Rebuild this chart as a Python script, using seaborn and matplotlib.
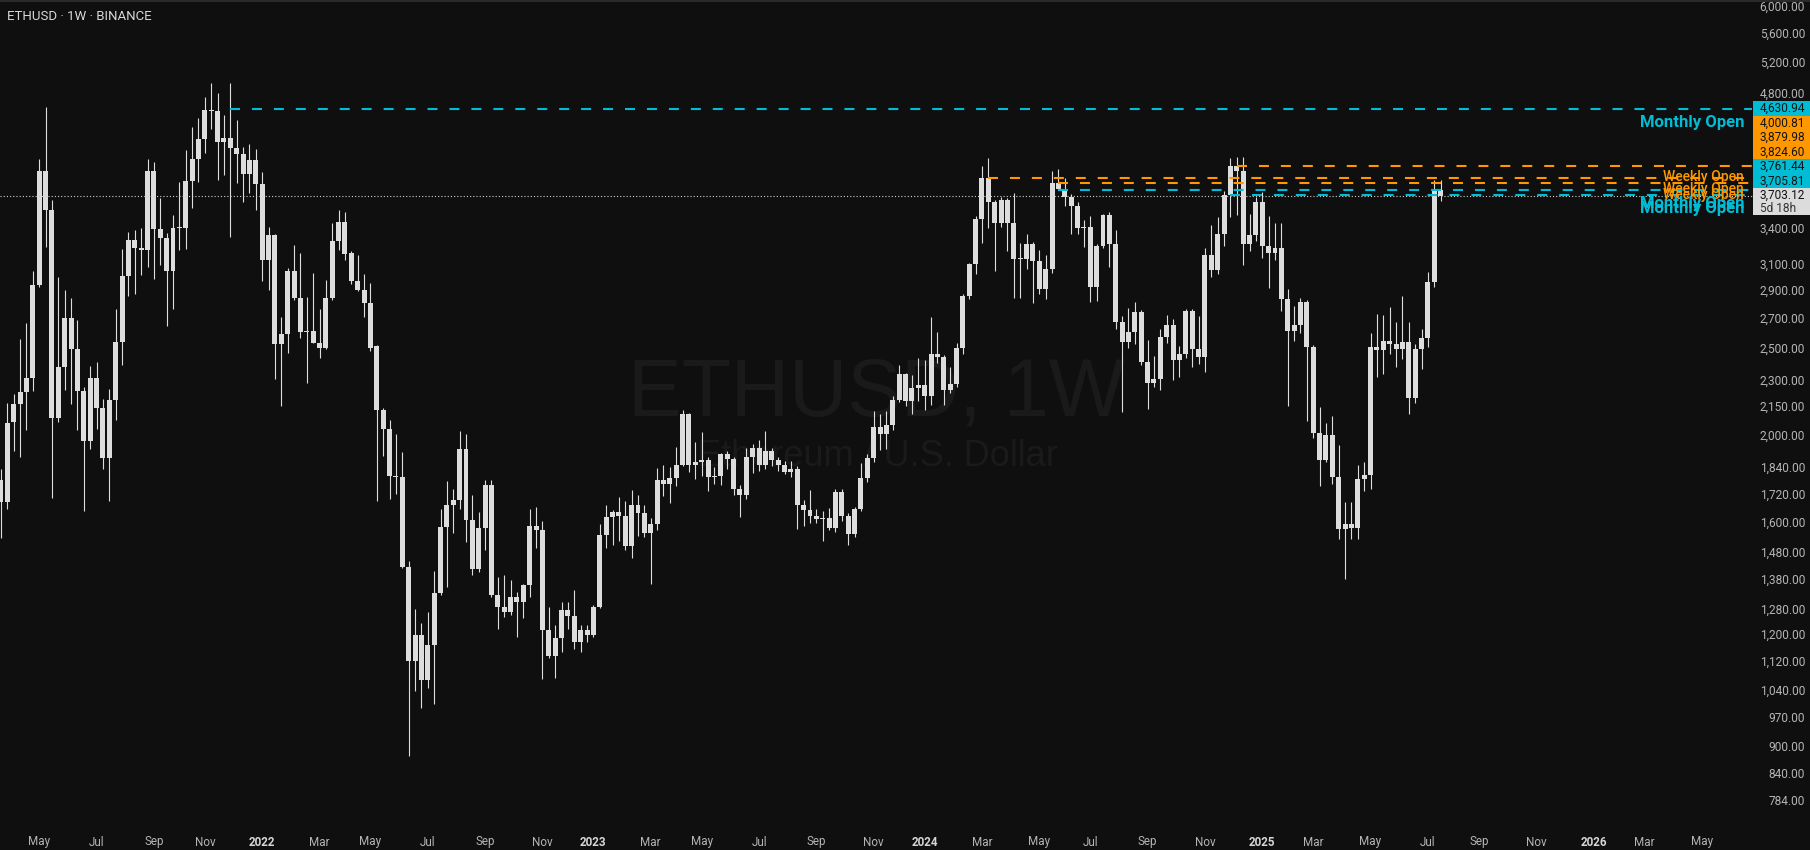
import numpy as np
import pandas as pd
import matplotlib
matplotlib.use("Agg")
import matplotlib.pyplot as plt
import seaborn as sns
from matplotlib.patches import Rectangle

# ---- data: weekly ETHUSD candles from the week of 2021-03-22 to 2025-07-21 ----
opens = [
    1786, 1690, 2075, 2170, 2240, 2320, 2948, 3943, 3570, 2095,
    2385, 2706, 2500, 2245, 1974, 2320, 2150, 1889, 2193, 2545,
    3015, 3306, 3235, 3220, 3950, 3400, 3320, 3055, 3410, 3405,
    3846, 4070, 4283, 4613, 4600, 4250, 4290, 4185, 4120, 3920,
    4058, 3820, 3141, 3350, 2533, 2600, 3053, 2848, 2610, 2620,
    2540, 2506, 2848, 3300, 3460, 3200, 2976, 2908, 2815, 2518,
    2137, 2034, 1804, 1800, 1430, 1123, 1200, 1070, 1170, 1337,
    1584, 1676, 1697, 1934, 1612, 1422, 1580, 1764, 1330, 1290,
    1275, 1325, 1305, 1364, 1588, 1570, 1216, 1138, 1191, 1280,
    1262, 1179, 1216, 1200, 1290, 1551, 1625, 1645, 1628, 1510,
    1676, 1640, 1560, 1596, 1786, 1770, 1795, 1856, 2116, 1856,
    1870, 1880, 1800, 1805, 1910, 1885, 1746, 1718, 1894, 1939,
    1856, 1924, 1880, 1856, 1822, 1836, 1676, 1655, 1630, 1615,
    1620, 1580, 1732, 1630, 1555, 1660, 1795, 1890, 2045, 2010,
    2057, 2193, 2345, 2190, 2262, 2280, 2215, 2468, 2450, 2250,
    2286, 2506, 2863, 3110, 3490, 3880, 3645, 3450, 3663, 3450,
    3149, 3150, 3270, 3133, 2915, 3070, 3825, 3770, 3690, 3610,
    3410, 3420, 2930, 3255, 3527, 3270, 2680, 2545, 2610, 2748,
    2418, 2290, 2315, 2577, 2660, 2430, 2468, 2755, 2500, 2450,
    3180, 3061, 3358, 3712, 4001, 3945, 3270, 3350, 3645, 3256,
    3200, 3238, 2842, 2617, 2660, 2820, 2512, 2015, 1880, 2005,
    1800, 1576, 1596, 1580, 1790, 1808, 2512, 2490, 2550, 2533,
    2500, 2545, 2205, 2500, 2570, 2970, 3761.44,
]
highs = [
    1836, 2175, 2230, 2563, 2672, 3053, 4070, 4650, 3665, 3010,
    2908, 2850, 2692, 2265, 2392, 2420, 2200, 2255, 2770, 3230,
    3370, 3392, 3410, 4070, 4040, 3685, 3365, 3520, 3836, 4164,
    4415, 4515, 4765, 4950, 4815, 4555, 4940, 4496, 4196, 4230,
    4175, 3936, 3418, 3358, 2713, 3077, 3260, 3200, 2856, 3037,
    2770, 2984, 3450, 3570, 3550, 3210, 3180, 3030, 2960, 2525,
    2150, 2083, 2010, 1918, 1450, 1283, 1237, 1273, 1414, 1660,
    1781, 1746, 2026, 2010, 1718, 1645, 1786, 1786, 1392, 1400,
    1382, 1340, 1368, 1660, 1667, 1607, 1290, 1231, 1306, 1306,
    1347, 1231, 1231, 1297, 1596, 1676, 1655, 1710, 1692, 1741,
    1718, 1676, 1620, 1841, 1856, 1848, 1944, 2137, 2120, 1968,
    2020, 1894, 1848, 1915, 1924, 1894, 1764, 1939, 1958, 1977,
    2026, 1939, 1894, 1875, 1875, 1852, 1697, 1741, 1660, 1650,
    1663, 1746, 1746, 1640, 1665, 1865, 1910, 2131, 2116, 2131,
    2215, 2398, 2350, 2340, 2443, 2430, 2710, 2610, 2460, 2386,
    2540, 2878, 3117, 3518, 4000, 4080, 3660, 3690, 3680, 3730,
    3280, 3355, 3290, 3222, 3180, 3945, 3966, 3876, 3720, 3640,
    3480, 3518, 3270, 3535, 3550, 3392, 2720, 2778, 2820, 2763,
    2558, 2455, 2630, 2727, 2700, 2520, 2770, 2770, 2720, 3240,
    3435, 3503, 3750, 4080, 4090, 4090, 3535, 3690, 3740, 3518,
    3450, 3450, 2915, 2792, 2850, 2835, 2525, 2155, 2067, 2105,
    1954, 1688, 1688, 1856, 1870, 2603, 2734, 2727, 2785, 2678,
    2863, 2678, 2533, 2630, 3045, 3856, 3856,
]
lows = [
    1540, 1660, 1925, 1894, 2030, 2245, 2930, 3250, 1707, 2075,
    2250, 2170, 2030, 1652, 1934, 2036, 1836, 1694, 2085, 2400,
    2860, 2880, 3025, 3085, 2990, 3100, 2650, 2770, 3222, 3230,
    3590, 3836, 4135, 4393, 3856, 3906, 3330, 3826, 3645, 3730,
    3570, 2976, 2908, 2314, 2160, 2474, 2835, 2570, 2290, 2540,
    2443, 2500, 2835, 3222, 3141, 2950, 2900, 2713, 2487, 1692,
    1900, 1702, 1725, 1425, 881, 1040, 995, 1048, 1007, 1330,
    1357, 1559, 1658, 1523, 1400, 1410, 1493, 1325, 1219, 1257,
    1265, 1195, 1254, 1325, 1500, 1073, 1132, 1076, 1148, 1219,
    1157, 1148, 1179, 1194, 1287, 1500, 1512, 1527, 1493, 1463,
    1547, 1543, 1368, 1571, 1714, 1683, 1760, 1852, 1822, 1790,
    1804, 1736, 1769, 1764, 1836, 1718, 1625, 1701, 1818, 1827,
    1836, 1852, 1827, 1813, 1800, 1576, 1588, 1600, 1600, 1527,
    1570, 1563, 1607, 1512, 1543, 1650, 1777, 1870, 1930, 1935,
    2031, 2180, 2160, 2116, 2187, 2137, 2165, 2411, 2165, 2233,
    2270, 2468, 2842, 3030, 3280, 3410, 3053, 3418, 3212, 2850,
    2850, 3070, 2815, 2878, 2842, 3040, 3760, 3610, 3358, 3358,
    3248, 2820, 2829, 3240, 3085, 2630, 2126, 2506, 2533, 2400,
    2143, 2270, 2250, 2540, 2308, 2326, 2443, 2386, 2405, 2355,
    3010, 3030, 3256, 3503, 3527, 3100, 3214, 3300, 3157, 2923,
    3141, 2755, 2160, 2550, 2603, 2078, 1990, 1760, 1870, 1769,
    1535, 1385, 1535, 1535, 1736, 1746, 2326, 2345, 2468, 2386,
    2436, 2116, 2176, 2373, 2512, 2930, 3650,
]
closes = [
    1690, 2070, 2170, 2240, 2320, 2948, 3943, 3570, 2095, 2385,
    2706, 2500, 2245, 1974, 2320, 2150, 1889, 2193, 2545, 3015,
    3306, 3235, 3220, 3950, 3400, 3320, 3055, 3410, 3405, 3846,
    4070, 4283, 4613, 4600, 4250, 4290, 4185, 4120, 3920, 4058,
    3820, 3141, 3350, 2533, 2600, 3053, 2848, 2610, 2620, 2540,
    2506, 2848, 3300, 3460, 3193, 2976, 2908, 2815, 2506, 2137,
    2034, 1804, 1800, 1430, 1123, 1200, 1070, 1170, 1337, 1584,
    1676, 1697, 1934, 1612, 1422, 1580, 1764, 1330, 1290, 1275,
    1325, 1305, 1364, 1588, 1570, 1216, 1138, 1191, 1280, 1262,
    1179, 1216, 1200, 1290, 1551, 1625, 1645, 1628, 1510, 1676,
    1640, 1560, 1596, 1786, 1770, 1795, 1856, 2116, 1856, 1870,
    1880, 1800, 1805, 1910, 1885, 1746, 1718, 1894, 1939, 1856,
    1924, 1880, 1856, 1822, 1836, 1676, 1655, 1630, 1615, 1620,
    1580, 1732, 1630, 1555, 1660, 1795, 1890, 2045, 2010, 2057,
    2193, 2345, 2190, 2262, 2280, 2215, 2468, 2450, 2250, 2286,
    2506, 2863, 3110, 3490, 3880, 3645, 3450, 3663, 3450, 3149,
    3150, 3270, 3133, 2915, 3070, 3825, 3770, 3690, 3610, 3410,
    3420, 2930, 3255, 3527, 3270, 2680, 2545, 2610, 2748, 2418,
    2290, 2315, 2577, 2660, 2430, 2468, 2755, 2500, 2450, 3180,
    3061, 3358, 3712, 4001, 3945, 3270, 3350, 3645, 3256, 3200,
    3238, 2842, 2617, 2660, 2820, 2512, 2015, 1880, 2005, 1800,
    1576, 1596, 1580, 1790, 1808, 2512, 2490, 2550, 2533, 2500,
    2545, 2205, 2500, 2570, 2970, 3761.44, 3703.12,
]
first_week = "2021-03-22"

# horizontal "open" levels (price, label, week index where the line starts)
level_prices = [4630.94, 4000.81, 3879.98, 3824.60, 3761.44, 3705.81]
level_labels = ["Monthly Open", "Weekly Open", "Weekly Open", "Weekly Open",
                "Monthly Open", "Monthly Open"]
level_start = [36, 194, 155, 166, 166, 193]
last_price = 3703.12
countdown = "5d 18h"

price_ticks = [6000, 5600, 5200, 4800, 3400, 3100, 2900, 2700, 2500, 2300,
               2150, 2000, 1840, 1720, 1600, 1480, 1380, 1280, 1200, 1120,
               1040, 970, 900, 840, 784]

# ---- style ----
BG = "#0f0f0f"
CANDLE = "#dddddd"
CYAN = "#00bcd4"
ORANGE = "#ff9800"
TAG_GREY = "#dcdcdc"
TXT = "#b5b5b5"

sns.set_theme(style="dark", rc={"axes.facecolor": BG, "figure.facecolor": BG})
plt.rcParams["font.family"] = ["Roboto", "DejaVu Sans"]
plt.rcParams["lines.scale_dashes"] = False

W, H = 1810, 850
BAR_PX = 6.37


# pixel helpers for the layout (x: bar index, y: price on the log scale)
def ix(px):
    return (px - 1) / BAR_PX


def py2p(py):
    return 6000 / 10 ** ((py - 7.5) / 898)


def p2py(p):
    return 7.5 + 898 * np.log10(6000 / p)


fig = plt.figure(figsize=(W / 100, H / 100), dpi=100)
ax = fig.add_axes([0, 0, 1, 1])
ax.set_yscale("log")
ax.set_xlim(ix(0), ix(W))
ax.set_ylim(py2p(H), py2p(0))
ax.axis("off")

o = np.array(opens, dtype=float)
h = np.array(highs, dtype=float)
l = np.array(lows, dtype=float)
c = np.array(closes, dtype=float)
idx = np.arange(len(c))

# watermark
ax.text(ix(876), py2p(395), "ETHUSD, 1W", ha="center", va="center",
        fontsize=58, color="#1a1a1a", family="Liberation Sans", zorder=0)
ax.text(ix(877), py2p(456), "Ethereum / U.S. Dollar", ha="center", va="center",
        fontsize=26, color="#1a1a1a", family="Liberation Sans", zorder=0)

# candles
ax.vlines(idx, l, h, color=CANDLE, lw=0.8, zorder=2)
bottom = np.minimum(o, c)
height = np.maximum(np.abs(c - o), bottom * 0.003)
ax.bar(idx, height, bottom=bottom, width=0.78, color=CANDLE, linewidth=0, zorder=3)

# open levels + labels
right_end = ix(1752)
for price, lab, start in zip(level_prices, level_labels, level_start):
    col = CYAN if lab.startswith("Monthly") else ORANGE
    ax.plot([start, right_end], [price, price], color=col, lw=1.5,
            linestyle=(0, (7.2, 8.6)), zorder=4)
for price, lab in zip(level_prices, level_labels):
    monthly = lab.startswith("Monthly")
    col = CYAN if monthly else ORANGE
    off = 13.5 if monthly else 11.5
    ax.text(ix(1744), py2p(p2py(price) + off), lab, ha="right", va="center",
            color=col, fontsize=12 if monthly else 10,
            fontweight="semibold" if monthly else "medium", zorder=5)

# current price dotted line
ax.plot([ix(0), right_end], [last_price, last_price], color="#d0d0d0", lw=0.8,
        linestyle=(0, (0.8, 1.5)), zorder=4)

# right price scale
for v in price_ticks:
    ax.text(ix(1805), v, f"{v:,.2f}", ha="right", va="center",
            fontsize=8.6, color=TXT)

# price tags, stacked upward from the last price
TAG_H = 14.5
tags = [(last_price, TAG_GREY)]
for price, lab in sorted(zip(level_prices, level_labels)):
    tags.append((price, CYAN if lab.startswith("Monthly") else ORANGE))
prev = None
for price, col in tags:
    yc = p2py(price) if prev is None else min(p2py(price), prev - TAG_H)
    top = yc - TAG_H / 2
    bot = yc + TAG_H / 2 + (12.5 if prev is None else 0)
    ax.add_patch(Rectangle((ix(1753), py2p(bot)), ix(W) - ix(1753),
                           py2p(top) - py2p(bot), color=col, lw=0, zorder=6))
    ax.text(ix(1805), py2p(yc), f"{price:,.2f}", ha="right", va="center",
            fontsize=8.6, color="#131313", zorder=7)
    if prev is None:
        ax.text(ix(1760), py2p(yc + 12.5), countdown, ha="left", va="center",
                fontsize=8.6, color="#333333", zorder=7)
    prev = yc

# time axis labels
dates = pd.date_range(first_week, periods=290, freq="7D")
for i, d in enumerate(dates):
    x = 1 + i * BAR_PX
    if d.day <= 7 and d.month % 2 == 1 and 10 < x < 1745:
        if d.month == 1:
            ax.text(i, py2p(842), str(d.year), ha="center", va="center",
                    fontsize=8.4, fontweight="bold", color="#d6d6d6")
        else:
            ax.text(i, py2p(842), d.strftime("%b"), ha="center", va="center",
                    fontsize=8.4, color=TXT)

# header
ax.add_patch(Rectangle((ix(0), py2p(2)), ix(W) - ix(0), py2p(0) - py2p(2),
                       color="#2a2a2a", lw=0, zorder=8))
ax.text(ix(7), py2p(17), "ETHUSD · 1W · BINANCE", ha="left", va="center",
        fontsize=9.5, color="#d8d8d8", zorder=8)

fig.savefig("out.png", dpi=100, facecolor=BG)
